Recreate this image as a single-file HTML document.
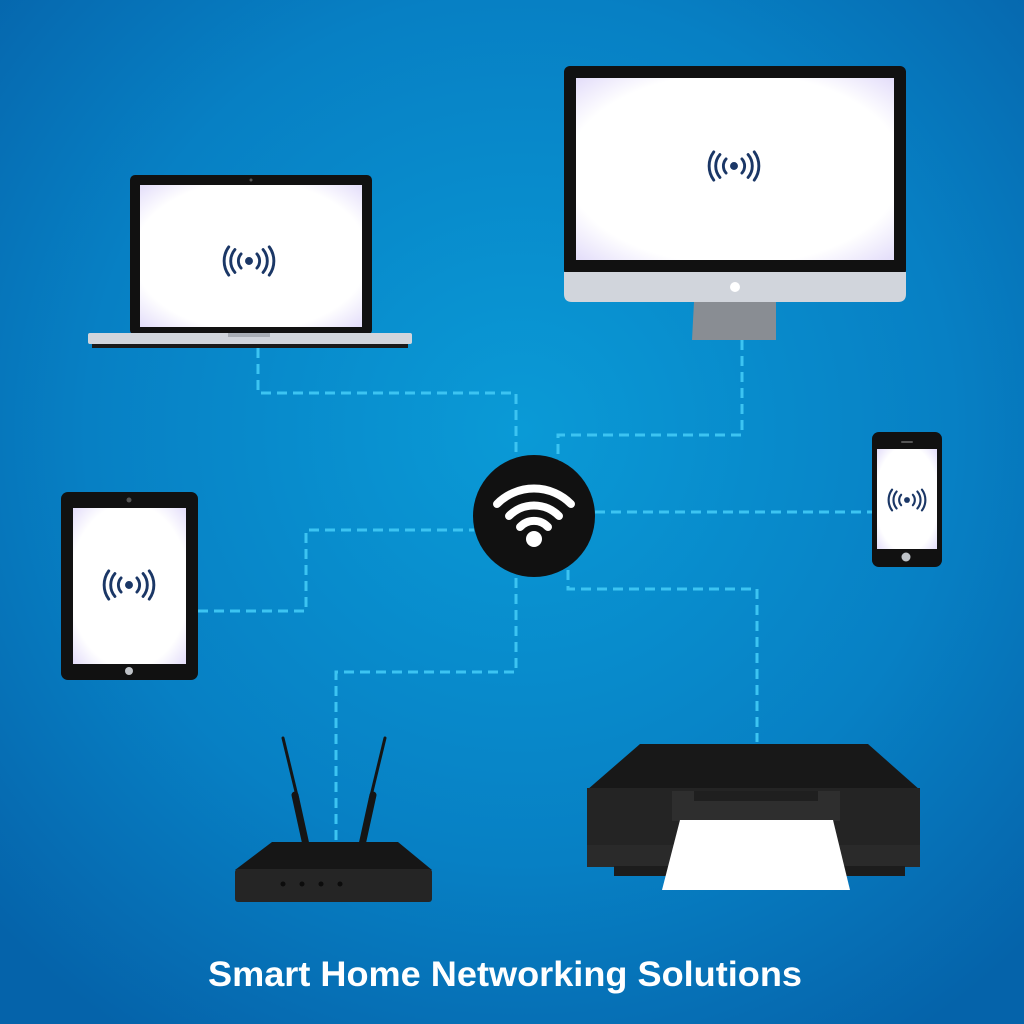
<!DOCTYPE html>
<html><head><meta charset="utf-8"><style>
html,body{margin:0;padding:0;width:1024px;height:1024px;overflow:hidden;background:#0678bd}
svg{display:block}
</style></head><body>
<svg width="1024" height="1024" viewBox="0 0 1024 1024" xmlns="http://www.w3.org/2000/svg">
<defs>
<radialGradient id="bg" cx="520" cy="430" r="720" gradientUnits="userSpaceOnUse">
<stop offset="0" stop-color="#0a9ad6"/><stop offset="0.6" stop-color="#0780c4"/><stop offset="1" stop-color="#0563aa"/>
</radialGradient>
<radialGradient id="scr" cx="0.5" cy="0.5" r="0.7">
<stop offset="0.75" stop-color="#ffffff"/><stop offset="1" stop-color="#e4defa"/>
</radialGradient>
<g id="sig" fill="none" stroke="#1b3766" stroke-width="3.3" stroke-linecap="round">
<circle cx="0" cy="0" r="4.5" fill="#1b3766" stroke="none"/>
<path d="M-9,-8 A12,12 0 0 0 -9,8"/><path d="M9,-8 A12,12 0 0 1 9,8"/>
<path d="M-16,-13 A20,20 0 0 0 -16,13"/><path d="M16,-13 A20,20 0 0 1 16,13"/>
<path d="M-23,-16 A27,27 0 0 0 -23,16"/><path d="M23,-16 A27,27 0 0 1 23,16"/>
</g>
</defs>
<rect width="1024" height="1024" fill="url(#bg)"/>
<g fill="none" stroke="#3cc4f2" stroke-width="3" stroke-dasharray="10,6">
<polyline points="258,348 258,393 516,393 516,455"/>
<polyline points="742,340 742,435 558,435 558,462"/>
<polyline points="595,512 872,512"/>
<polyline points="198,611 306,611 306,530 474,530"/>
<polyline points="516,578 516,672 336,672 336,840"/>
<polyline points="568,570 568,589 757,589 757,742"/>
</g>
<circle cx="534" cy="516" r="61" fill="#111"/>
<g fill="none" stroke="#fff" stroke-width="8" stroke-linecap="round">
<path d="M497,504 A52,52 0 0 1 571,504"/>
<path d="M509,516 A35,35 0 0 1 559,516"/>
<path d="M520,527 A19,19 0 0 1 548,527"/>
</g>
<circle cx="534" cy="539" r="8" fill="#fff"/>
<!-- laptop -->
<rect x="130" y="175" width="242" height="160" rx="5" fill="#111"/>
<rect x="140" y="185" width="222" height="142" fill="url(#scr)"/>
<circle cx="251" cy="180" r="1.5" fill="#555"/>
<rect x="88" y="333" width="324" height="11" rx="2" fill="#d1d5dc"/>
<rect x="92" y="344" width="316" height="4" fill="#1a1a1a"/>
<rect x="228" y="333" width="42" height="4" fill="#a9aeb6"/>
<use href="#sig" transform="translate(249,261) scale(0.88)"/>
<!-- monitor -->
<rect x="564" y="66" width="342" height="210" rx="6" fill="#111"/>
<rect x="576" y="78" width="318" height="182" fill="url(#scr)"/>
<path d="M564,272 H906 V294 Q906,302 898,302 H572 Q564,302 564,294 Z" fill="#d1d5dc"/>
<circle cx="735" cy="287" r="5" fill="#fff"/>
<path d="M694,302 H776 V340 H692 Z" fill="#898d93"/>
<use href="#sig" transform="translate(734,166) scale(0.88)"/>
<!-- phone -->
<rect x="872" y="432" width="70" height="135" rx="7" fill="#111"/>
<rect x="877" y="449" width="60" height="100" fill="url(#scr)"/>
<rect x="901" y="441" width="12" height="2" rx="1" fill="#555"/>
<circle cx="906" cy="557" r="4.5" fill="#bfc3c8"/>
<use href="#sig" transform="translate(907,500) scale(0.65)"/>
<!-- tablet -->
<rect x="61" y="492" width="137" height="188" rx="7" fill="#111"/>
<rect x="73" y="508" width="113" height="156" fill="url(#scr)"/>
<circle cx="129" cy="500" r="2.5" fill="#555"/>
<circle cx="129" cy="671" r="4" fill="#bfc3c8"/>
<use href="#sig" transform="translate(129,585) scale(0.88)"/>
<!-- router -->
<g stroke="#151515" stroke-linecap="round">
<line x1="283" y1="738" x2="298" y2="800" stroke-width="3"/>
<line x1="295" y1="795" x2="306" y2="845" stroke-width="7"/>
<line x1="385" y1="738" x2="370" y2="800" stroke-width="3"/>
<line x1="373" y1="795" x2="362" y2="845" stroke-width="7"/>
</g>
<path d="M272,842 H398 L432,870 H235 Z" fill="#161616"/>
<rect x="235" y="869" width="197" height="33" rx="3" fill="#252525"/>
<g fill="#0c0c0c"><circle cx="283" cy="884" r="2.5"/><circle cx="302" cy="884" r="2.5"/><circle cx="321" cy="884" r="2.5"/><circle cx="340" cy="884" r="2.5"/></g>
<!-- printer -->
<path d="M640,744 H868 L920,790 H587 Z" fill="#181818"/>
<rect x="587" y="788" width="333" height="62" fill="#242424"/>
<rect x="587" y="845" width="333" height="22" fill="#2a2a2a"/>
<rect x="614" y="866" width="291" height="10" fill="#1c1c1c"/>
<rect x="672" y="791" width="168" height="30" fill="#2e2e2e"/>
<rect x="694" y="791" width="124" height="10" fill="#1f1f1f"/>
<path d="M680,820 H833 L850,890 H662 Z" fill="#fff"/>
<text x="505" y="986" text-anchor="middle" font-family="Liberation Sans, sans-serif" font-weight="bold" font-size="35" textLength="594" lengthAdjust="spacingAndGlyphs" fill="#fff">Smart Home Networking Solutions</text>
</svg>
</body></html>
